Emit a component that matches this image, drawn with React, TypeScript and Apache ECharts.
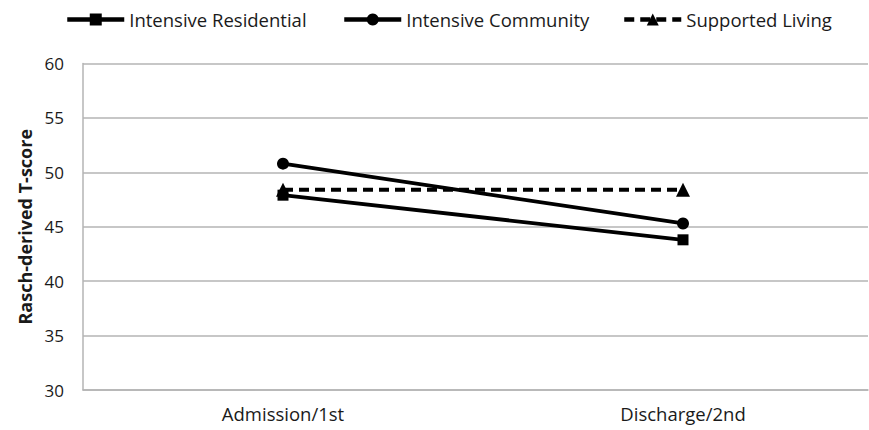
import React, { useEffect, useRef } from "react";
import * as echarts from "echarts";

const categories = ["Admission/1st", "Discharge/2nd"];
const seriesNames = ["Intensive Residential", "Intensive Community", "Supported Living"];
const intensiveResidential = [47.9, 43.8];
const intensiveCommunity = [50.8, 45.3];
const supportedLiving = [48.4, 48.4];
const yMin = 30;
const yMax = 60;
const yInterval = 5;

const FONT = "Open Sans";
const GRID_COLOR = "#b4b4b4";
const TEXT_COLOR = "#1a1a1a";

export default function App() {
  const ref = useRef<HTMLDivElement>(null);
  useEffect(() => {
    document.body.style.margin = "0";
    const chart = echarts.init(ref.current!, null, { renderer: "svg" });
    const mk = (name: string, data: number[], symbol: string, dashed: boolean) => ({
      name,
      type: "line",
      xAxisIndex: 1,
      yAxisIndex: 1,
      data,
      symbol,
      symbolSize: symbol === "triangle" ? 14 : symbol === "rect" ? 11 : 12,
      lineStyle: { color: "#000", width: 3.8, type: dashed ? [10, 6] : "solid" },
      itemStyle: { color: "#000" },
    });
    const legendLefts = [65, 342, 622];
    chart.setOption({
      animation: false,
      backgroundColor: "#fff",
      textStyle: { fontFamily: FONT },
      legend: seriesNames.map((n, i) => ({
        top: 10,
        left: legendLefts[i],
        padding: 0,
        itemWidth: 57,
        itemHeight: 15,
        lineStyle: { width: 4.5 },
        textStyle: { fontSize: 18.5, color: TEXT_COLOR, fontFamily: FONT },
        data: [n],
      })),
      grid: [
        { left: 83, right: 1, top: 63.5, bottom: 40 },
        { left: 283, right: 186, top: 63.5, bottom: 40 },
      ],
      xAxis: [
        {
          type: "category",
          gridIndex: 0,
          data: categories,
          axisLine: { lineStyle: { color: GRID_COLOR, width: 1.5 } },
          axisTick: { show: false },
          axisLabel: { show: false },
        },
        {
          type: "category",
          gridIndex: 1,
          data: categories,
          boundaryGap: false,
          axisLine: { show: false },
          axisTick: { show: false },
          axisLabel: { fontSize: 18.5, color: TEXT_COLOR, margin: 14, fontFamily: FONT },
        },
      ],
      yAxis: [
        {
          type: "value",
          gridIndex: 0,
          min: yMin,
          max: yMax,
          interval: yInterval,
          name: "Rasch-derived T-score",
          nameLocation: "middle",
          nameGap: 48,
          nameTextStyle: { fontSize: 18, fontWeight: "bold", color: TEXT_COLOR, fontFamily: FONT },
          axisLine: { show: true, lineStyle: { color: GRID_COLOR, width: 1.5 } },
          axisTick: { show: false },
          axisLabel: { fontSize: 17, color: TEXT_COLOR, margin: 19, fontFamily: FONT },
          splitLine: { lineStyle: { color: GRID_COLOR, width: 1.5 } },
        },
        {
          type: "value",
          gridIndex: 1,
          min: yMin,
          max: yMax,
          interval: yInterval,
          show: false,
          splitLine: { show: false },
        },
      ],
      series: [
        mk(seriesNames[0], intensiveResidential, "rect", false),
        mk(seriesNames[1], intensiveCommunity, "circle", false),
        mk(seriesNames[2], supportedLiving, "triangle", true),
      ],
    });
    return () => chart.dispose();
  }, []);
  return <div ref={ref} style={{ width: 869, height: 430 }} />;
}
